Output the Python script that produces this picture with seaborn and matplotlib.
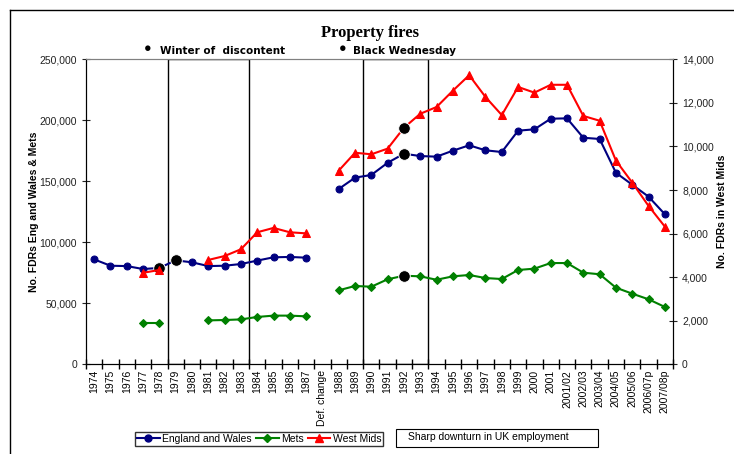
import numpy as np
import pandas as pd
import seaborn as sns
import matplotlib.pyplot as plt
from matplotlib.patches import Rectangle
from matplotlib.lines import Line2D
from matplotlib.ticker import FuncFormatter

# categories along the x axis
years = [str(y) for y in range(1974, 1988)] + ["Def. change"] + \
        [str(y) for y in range(1988, 2002)] + \
        ["2001/02", "2002/03", "2003/04", "2004/05", "2005/06", "2006/07p", "2007/08p"]

nan = np.nan
# England and Wales (left axis)
eng_wales = [86000, 80800, 80500, 78100, 79000, 85200, 83600, 80500, 80800, 82200,
             85000, 87700, 88000, 87400, nan,
             143700, 153000, 155200, 165200, 172600, 170700, 170200, 175100, 179500,
             175400, 174000, 191500, 192600, 201300, 201600, 185700, 184700, 157000,
             147200, 137400, 123000]
# Mets (left axis)
mets = [nan, nan, nan, 34100, 34100, nan, nan, 36000, 36300, 36800,
        38800, 39900, 39900, 39300, nan,
        60650, 64200, 63600, 69700, 72600, 72100, 69300, 72100, 73200,
        70700, 69900, 77300, 78400, 83000, 83000, 75100, 73800, 62800,
        57900, 53300, 47000]
# West Mids (right axis)
west_mids = [nan, nan, nan, 4200, 4330, nan, nan, 4790, 4970, 5280,
             6060, 6260, 6060, 6010, nan,
             8890, 9710, 9640, 9900, 10860, 11500, 11810, 12560, 13270,
             12270, 11440, 12730, 12470, 12830, 12830, 11400, 11180, 9350,
             8340, 7270, 6320]

# highlighted events (category, series)
events_left = [("1978", 79000), ("1979", 85200), ("1992", 172600), ("1992", 72600)]
events_right = [("1992", 10860)]


def segments(vals):
    rows = []
    seg = 0
    prev_nan = True
    for i, v in enumerate(vals):
        if np.isnan(v):
            prev_nan = True
            continue
        if prev_nan:
            seg += 1
        prev_nan = False
        rows.append({"pos": i, "val": v, "seg": seg})
    return pd.DataFrame(rows)


plt.rcParams["font.family"] = ["Liberation Sans", "DejaVu Sans"]

fig = plt.figure(figsize=(7.34, 4.54), dpi=100)
ax = fig.add_axes([86 / 734, 1 - 364.3 / 454, 587 / 734, 305 / 454])
ax2 = ax.twinx()

blue = "#000080"
green = "#008000"
red = "#ff0000"

sns.lineplot(data=segments(eng_wales), x="pos", y="val", units="seg", estimator=None,
             color=blue, marker="o", markersize=5, markeredgecolor=blue, lw=1.5, ax=ax)
sns.lineplot(data=segments(mets), x="pos", y="val", units="seg", estimator=None,
             color=green, marker="D", markersize=3.8, markeredgecolor=green, lw=1.5, ax=ax)
sns.lineplot(data=segments(west_mids), x="pos", y="val", units="seg", estimator=None,
             color=red, marker="^", markersize=5.5, markeredgecolor=red, lw=1.5, ax=ax2)

ev_l = pd.DataFrame({"pos": [years.index(c) for c, _ in events_left],
                     "val": [v for _, v in events_left]})
ev_r = pd.DataFrame({"pos": [years.index(c) for c, _ in events_right],
                     "val": [v for _, v in events_right]})
sns.scatterplot(data=ev_l, x="pos", y="val", color="black", s=70, ax=ax, zorder=5)
sns.scatterplot(data=ev_r, x="pos", y="val", color="black", s=70, ax=ax2, zorder=5)

# event boxes
for x0, x1 in [(4.5, 9.5), (16.5, 20.5)]:
    ax.add_patch(Rectangle((x0, 0), x1 - x0, 250000, fill=False, edgecolor="black",
                           lw=1.0, zorder=1))

ax.set_xlim(-0.5, len(years) - 0.5)
ax.set_ylim(0, 250000)
ax2.set_ylim(0, 14000)

ax.set_xticks(np.arange(-0.5, len(years), 1))
ax.set_xticklabels([])
ax.set_xticks(np.arange(len(years)), minor=True)
ax.set_xticklabels(years, minor=True, rotation=90, fontsize=7.5)
ax.tick_params(axis="x", which="major", direction="inout", length=7, width=1)
ax.tick_params(axis="x", which="minor", length=0, pad=4)

ax.set_yticks(np.arange(0, 250001, 50000))
ax.yaxis.set_major_formatter(FuncFormatter(lambda v, p: f"{int(v):,}"))
ax.tick_params(axis="y", direction="inout", length=6, labelsize=7.5, colors="#222222")
ax2.set_yticks(np.arange(0, 14001, 2000))
ax2.yaxis.set_major_formatter(FuncFormatter(lambda v, p: f"{int(v):,}"))
ax2.tick_params(axis="y", direction="inout", length=6, labelsize=7.5, colors="#222222")

for a in (ax, ax2):
    a.set_xlabel("")
    for side in ("left", "right", "bottom"):
        a.spines[side].set_color("black")
    a.spines["top"].set_color("#808080")
ax.set_ylabel("No. FDRs Eng and Wales & Mets", fontsize=7.5, fontweight="bold", labelpad=0)
ax2.set_ylabel("No. FDRs in West Mids", fontsize=7.5, fontweight="bold", labelpad=2)

fig.text(370 / 734, 1 - 33 / 454, "Property fires", ha="center", va="center",
         fontsize=12, fontweight="bold", family="Liberation Serif")
fig.text(148 / 734, 1 - 49 / 454, "\u25cf", ha="center", va="center", fontsize=9)
fig.text(160 / 734, 1 - 51 / 454, "Winter of  discontent", ha="left", va="center",
         fontsize=7.5, fontweight="bold", family="DejaVu Sans")
fig.text(343 / 734, 1 - 49 / 454, "\u25cf", ha="center", va="center", fontsize=9)
fig.text(353 / 734, 1 - 51 / 454, "Black Wednesday", ha="left", va="center",
         fontsize=7.5, fontweight="bold", family="DejaVu Sans")

# legend
handles = [Line2D([], [], color=blue, marker="o", markersize=5, lw=1.5),
           Line2D([], [], color=green, marker="D", markersize=3.8, lw=1.5),
           Line2D([], [], color=red, marker="^", markersize=5.5, lw=1.5)]
leg = ax.legend(handles, ["England and Wales", "Mets", "West Mids"], ncol=3,
                loc="center", bbox_to_anchor=(259 / 734, 1 - 439 / 454),
                bbox_transform=fig.transFigure, fontsize=7.5, frameon=True,
                fancybox=False, edgecolor="black", handlelength=2.2, handletextpad=0.2,
                columnspacing=0.4, borderpad=0.2)
leg.get_frame().set_linewidth(1.0)

# employment box
fig.patches.append(Rectangle((396 / 734, 1 - 447 / 454), 202 / 734, 18 / 454,
                             transform=fig.transFigure, fill=False, edgecolor="black",
                             lw=0.8))
fig.text(408 / 734, 1 - 437 / 454, "Sharp downturn in UK employment", ha="left",
         va="center", fontsize=7.5)

# outer frame
fig.add_artist(Line2D([10 / 734, 10 / 734], [0, 1 - 10 / 454], color="black", lw=1,
                      transform=fig.transFigure))
fig.add_artist(Line2D([10 / 734, 1], [1 - 10 / 454, 1 - 10 / 454], color="black", lw=1,
                      transform=fig.transFigure))

fig.savefig("out.png", dpi=100)
